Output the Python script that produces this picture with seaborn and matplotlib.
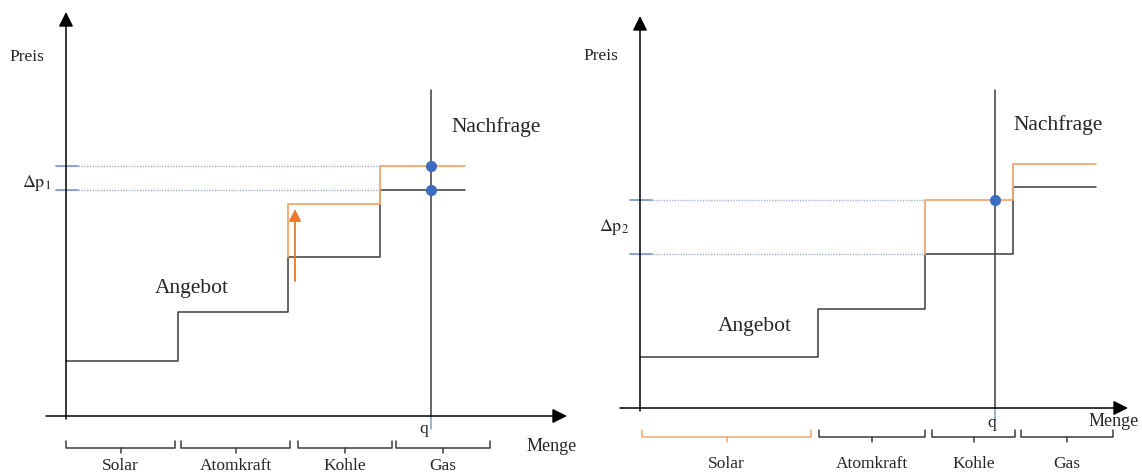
# -*- coding: utf-8 -*-
import matplotlib
matplotlib.use("Agg")
import matplotlib.pyplot as plt
import seaborn as sns

# ---- Daten (linkes Bild) ----
edges_1 = [0, 112, 222, 314, 399]
preis_1 = [55, 104, 159, 226]
orange_x_1 = [222, 222, 314, 399]
orange_y_1 = [159, 212, 250, 250]
q_1 = 365
nachfrage_top_1 = 326
punkte_1 = [250, 226]
klammern_1 = [(0, 109), (115, 224), (232, 326), (330, 424)]

# ---- Daten (rechtes Bild) ----
edges_2 = [0, 178, 285, 373, 456]
preis_2 = [51, 99, 154, 221]
orange_x_2 = [285, 285, 373, 373, 456]
orange_y_2 = [154, 208, 208, 244, 244]
q_2 = 355
nachfrage_top_2 = 318
punkte_2 = [208]
klammern_2 = [(2, 171), (179, 285), (292, 375), (381, 473)]

quellen = ["Solar", "Atomkraft", "Kohle", "Gas"]

sns.set_theme(style="white")
plt.rcParams["font.family"] = ["Liberation Serif", "DejaVu Serif"]
plt.rcParams["mathtext.fontset"] = "stix"

DUNKEL = "#3c3c3c"
ORANGE = "#f2a66e"
ORANGE_PFEIL = "#e8792e"
BLAU = "#3a6cc0"
BLAU_HELL = "#9cb4d6"

fig = plt.figure(figsize=(11.42, 4.77), dpi=100)
ax1 = fig.add_axes([0, 0, 0.5, 1])
ax2 = fig.add_axes([0.5, 0, 0.5, 1])
ax1.set_xlim(-66, 505)
ax1.set_ylim(-60, 417)
ax2.set_xlim(-69, 502)
ax2.set_ylim(-68, 409)


def achsen(ax, x0, x1, y0, y1):
    ax.annotate("", xy=(0, y1), xytext=(0, y0),
                arrowprops=dict(arrowstyle="-|>", color="black", lw=1.1,
                                mutation_scale=22, shrinkA=0, shrinkB=0))
    ax.annotate("", xy=(x1, 0), xytext=(x0, 0),
                arrowprops=dict(arrowstyle="-|>", color="black", lw=1.1,
                                mutation_scale=22, shrinkA=0, shrinkB=0))


def klammer(ax, a, b, top, bot, tick, farbe):
    ax.plot([a, a, b, b], [top, bot, bot, top], color=farbe, lw=1.1)
    m = (a + b) / 2
    ax.plot([m, m], [bot, tick], color=farbe, lw=1.1)


def panel(ax, edges, preis, ox, oy, q, ntop, punkte, klammern, kl_y,
          lab_y, delta_lab, delta_pos, solar_orange):
    ax.set_axis_off()
    # Angebot (schwarz)
    sns.lineplot(x=edges, y=preis + [preis[-1]], drawstyle="steps-post",
                 color=DUNKEL, lw=1.1, estimator=None, sort=False, ax=ax)
    # Angebot neu (orange)
    sns.lineplot(x=ox, y=oy, drawstyle="steps-post", color=ORANGE, lw=1.3,
                 estimator=None, sort=False, ax=ax)
    # Preislinien
    for p in punkte if len(punkte) > 1 else punkte + [preis[2]]:
        ax.plot([-10, ox[0] if len(punkte) == 1 else edges[3]], [p, p],
                color=BLAU_HELL, lw=1, ls=(0, (1, 1)))
        ax.plot([-10, 12], [p, p], color="#7f9fc8", lw=1.3)
    # Nachfrage
    ax.plot([q, q], [0, ntop], color=DUNKEL, lw=1.1)
    ax.plot([q, q], [0, -13], color="#7f9fc8", lw=1.1)
    sns.scatterplot(x=[q] * len(punkte), y=punkte, color=BLAU, s=55,
                    edgecolor=BLAU, zorder=5, ax=ax)
    # Klammern
    for i, (a, b) in enumerate(klammern):
        farbe = ORANGE if (solar_orange and i == 0) else DUNKEL
        klammer(ax, a, b, *kl_y, farbe)
        ax.text((a + b) / 2, lab_y, quellen[i], ha="center", va="center",
                fontsize=12.5)
    ax.text(*delta_pos, delta_lab, ha="center", va="center", fontsize=13)


achsen(ax1, -20, 501, -3, 404)
panel(ax1, edges_1, preis_1, orange_x_1, orange_y_1, q_1, nachfrage_top_1,
      punkte_1, klammern_1, (-25, -32, -37), -49,
      r"$\Delta\mathrm{p}_{1}$", (-29, 234), False)
ax1.annotate("", xy=(229, 207), xytext=(229, 135),
             arrowprops=dict(arrowstyle="-|>", color=ORANGE_PFEIL, lw=1.3,
                             mutation_scale=18, shrinkA=0, shrinkB=0))
ax1.text(-39, 360, "Preis", ha="center", va="center", fontsize=12.5)
ax1.text(430, 290, "Nachfrage", ha="center", va="center", fontsize=15.5)
ax1.text(126, 129, "Angebot", ha="center", va="center", fontsize=15.5)
ax1.text(358, -12, "q", ha="center", va="center", fontsize=12.5)
ax1.text(486, -30, "Menge", ha="center", va="center", fontsize=13)

achsen(ax2, -20, 488, -3, 392)
panel(ax2, edges_2, preis_2, orange_x_2, orange_y_2, q_2, nachfrage_top_2,
      punkte_2, klammern_2, (-22, -29, -34), -55,
      r"$\Delta\mathrm{p}_{2}$", (-26, 182), True)
ax2.text(-39, 353, "Preis", ha="center", va="center", fontsize=12.5)
ax2.text(418, 284, "Nachfrage", ha="center", va="center", fontsize=15.5)
ax2.text(115, 82, "Angebot", ha="center", va="center", fontsize=15.5)
ax2.text(352, -14, "q", ha="center", va="center", fontsize=12.5)
ax2.text(474, -13, "Menge", ha="center", va="center", fontsize=13)

fig.savefig("out.png", dpi=100)
